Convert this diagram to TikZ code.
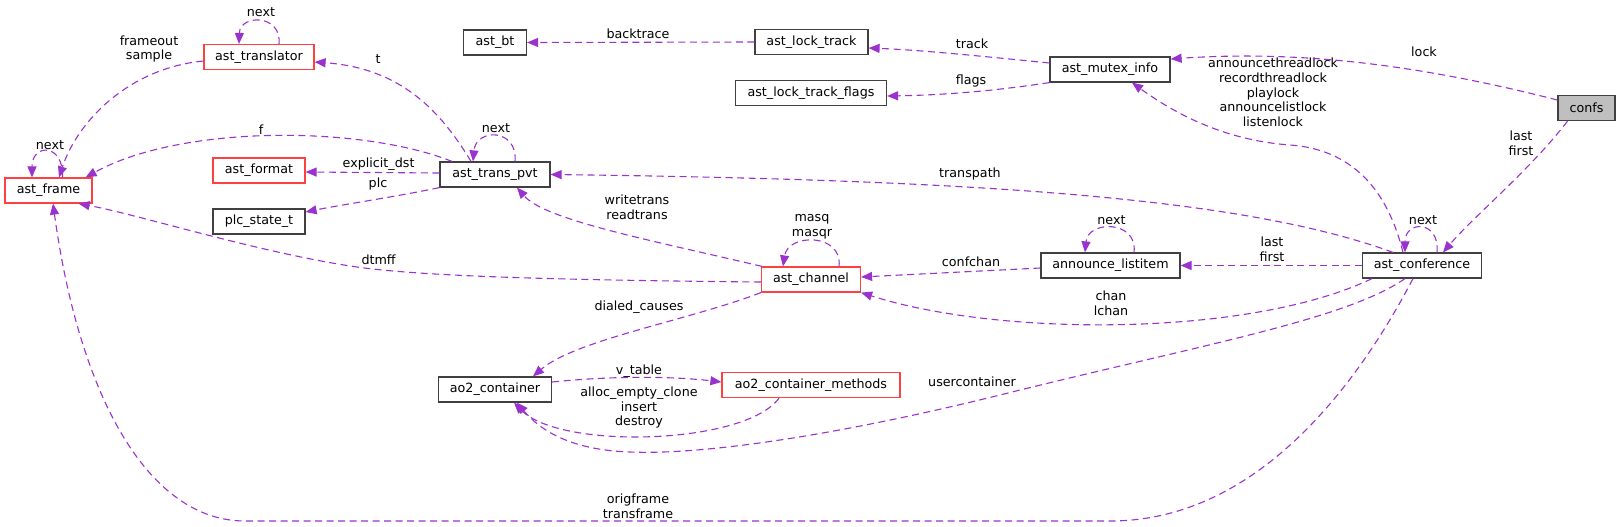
\documentclass[tikz,border=0pt]{standalone}
\usepackage{fontspec}
\setmainfont{DejaVu Sans}
\usetikzlibrary{arrows.meta}
\definecolor{edgec}{HTML}{9A32CD}
\definecolor{redb}{HTML}{FF4040}
\definecolor{darkb}{HTML}{404040}
\definecolor{rootfill}{HTML}{BFBFBF}
\begin{document}
\begin{tikzpicture}[x=1pt,y=-1pt,
  lbl/.style={font=\fontsize{12.7}{14.75}\selectfont, inner sep=0pt, align=center},
  box/.style={lbl, draw=darkb, line width=1.2pt, fill=white, minimum height=25pt},
  redbox/.style={box, draw=redb},
  rootbox/.style={box, fill=rootfill},
  rel/.style={draw=edgec, line width=1.1pt, dash pattern=on 7pt off 4.5pt, -{Triangle[length=11pt,width=9pt]}}
]
\useasboundingbox (0,0) rectangle (1620,527);

% nodes
\node[redbox, minimum width=87pt] (frame) at (48.5,190.5) {ast\_frame};
\node[redbox, minimum width=110pt] (translator) at (259,57) {ast\_translator};
\node[box, minimum width=63pt] (bt) at (495,42.5) {ast\_bt};
\node[redbox, minimum width=92pt] (format) at (259,170.5) {ast\_format};
\node[box, minimum width=92pt] (plc) at (259,221.5) {plc\_state\_t};
\node[box, minimum width=110pt] (pvt) at (495,174.5) {ast\_trans\_pvt};
\node[box, minimum width=113pt] (locktrack) at (811.5,42) {ast\_lock\_track};
\node[box, minimum width=151pt] (flags) at (811,93) {ast\_lock\_track\_flags};
\node[box, minimum width=120pt] (mutex) at (1110,69.5) {ast\_mutex\_info};
\node[rootbox, minimum width=57pt] (confs) at (1586.5,108) {confs};
\node[redbox, minimum width=99pt] (channel) at (811,279.5) {ast\_channel};
\node[box, minimum width=139pt] (listitem) at (1110.5,265.5) {announce\_listitem};
\node[box, minimum width=119pt] (conf) at (1422,265.5) {ast\_conference};
\node[box, minimum width=113pt] (ao2) at (495,389.5) {ao2\_container};
\node[redbox, minimum width=178pt] (methods) at (811,385) {ao2\_container\_methods};

% edges
\draw[rel] ([xshift=14pt]frame.north) .. controls (64,143) and (32,143) .. ([xshift=-16.5pt]frame.north);
\node[lbl] (l1) at (50,145) {next};

\draw[rel] ([yshift=-4pt]translator.west) .. controls (130,68) and (78,120) .. ([xshift=10.5pt]frame.north);
\node[lbl] (l2) at (149,49) {frameout\\sample};

\draw[rel] ([xshift=20pt]translator.north) .. controls (282,14) and (240,14) .. ([xshift=-20pt]translator.north);
\node[lbl] (l3) at (261,12) {next};

\draw[rel] ([xshift=-24pt]pvt.north) .. controls (440,110) and (400,68) .. ([yshift=-5pt]translator.east);
\node[lbl] (l4) at (378,59) {t};

\draw[rel] ([xshift=20pt]pvt.north) .. controls (518,128) and (476,128) .. ([xshift=-22pt]pvt.north);
\node[lbl] (l5) at (496,128) {next};

\draw[rel] ([xshift=-43pt]pvt.north) .. controls (360,125) and (180,125) .. ([xshift=-7pt]frame.north east);
\node[lbl] (l6) at (261,130) {f};

\draw[rel] ([yshift=1.5pt]pvt.west) -- ([yshift=-1.5pt]format.east);
\node[lbl] (l7) at (378.6,164) {explicit\_dst};

\draw[rel] (pvt.south west) .. controls (400,196) and (340,205) .. ([yshift=9.5pt]plc.east);
\node[lbl] (l8) at (378,184) {plc};

\draw[rel] ([yshift=-2.5pt]channel.west) .. controls (550,280) and (420,276) .. (357,267) .. controls (260,253) and (140,215) .. ([xshift=-14pt]frame.south east);
\node[lbl] (l9) at (378.6,260) {dtmff};

\draw[rel] ([xshift=-49pt]channel.north) .. controls (650,240) and (545,220) .. ([xshift=22pt]pvt.south);
\node[lbl] (l10) at (637,207.5) {writetrans\\readtrans};

\draw[rel] ([xshift=28pt]channel.north) .. controls (843,233) and (788,233) .. ([xshift=-28pt]channel.north);
\node[lbl] (l11) at (812,227) {masq\\masqr};

\draw[rel] ([yshift=-2.5pt]listitem.west) -- ([yshift=2.5pt]channel.east);
\node[lbl] (l12) at (971,262) {confchan};

\draw[rel] ([xshift=-50pt]conf.south) .. controls (1250,337) and (1000,337) .. (channel.south east);
\node[lbl] (l13) at (1111,303.5) {chan\\lchan};

\draw[rel] ([xshift=-17pt]conf.south) .. controls (1345,320) and (1200,345) .. (1000,395) .. controls (830,437) and (700,455) .. (630,452) .. controls (570,450) and (540,430) .. ([xshift=22pt]ao2.south);
\node[lbl] (l14) at (972,382) {usercontainer};

\draw[rel] ([xshift=-9pt]conf.south) .. controls (1360,380) and (1260,521) .. (1110,521) -- (245,521) .. controls (150,521) and (80,400) .. ([xshift=4.5pt]frame.south);
\node[lbl] (l15) at (638,506) {origframe\\transframe};

\draw[rel] (channel.south west) .. controls (690,320) and (575,340) .. ([xshift=38pt]ao2.north);
\node[lbl] (l16) at (639,307) {dialed\_causes};

\draw[rel] ([yshift=7.5pt]ao2.east) .. controls (610,376) and (670,376) .. ([yshift=3pt]methods.west);
\node[lbl] (l17) at (639,371) {v\_table};

\draw[rel] ([xshift=-32pt]methods.south) .. controls (745,445) and (560,450) .. ([xshift=19pt]ao2.south);
\node[lbl] (l18) at (639,407.5) {alloc\_empty\_clone\\insert\\destroy};

\draw[rel] ([xshift=-29pt]conf.north) .. controls (1250,200) and (1000,180) .. (pvt.east);
\node[lbl] (l19) at (970,174) {transpath};

\draw[rel] ([xshift=-19pt]conf.north) .. controls (1390,200) and (1360,150) .. (1290,145) .. controls (1220,140) and (1170,110) .. ([xshift=22pt]mutex.south);
\node[lbl] (l20) at (1273,92.5) {announcethreadlock\\recordthreadlock\\playlock\\announcelistlock\\listenlock};

\draw[rel] ([xshift=15pt]conf.north) .. controls (1440,220) and (1405,220) .. ([xshift=-17pt]conf.north);
\node[lbl] (l21) at (1423,220) {next};

\draw[rel] ([xshift=-19pt]confs.south) .. controls (1530,170) and (1475,215) .. ([xshift=21pt]conf.north);
\node[lbl] (l22) at (1521,143.5) {last\\first};

\draw[rel] ([yshift=8pt]confs.west) .. controls (1420,65) and (1300,50) .. ([yshift=10.5pt]mutex.east);
\node[lbl] (l23) at (1424,52) {lock};

\draw[rel] ([yshift=6.5pt]mutex.west) .. controls (980,56) and (920,50) .. ([yshift=-6pt]locktrack.east);
\node[lbl] (l24) at (972,44) {track};

\draw[rel] (mutex.south west) .. controls (1000,90) and (950,95) .. ([yshift=-3pt]flags.east);
\node[lbl] (l25) at (971,81) {flags};

\draw[rel] (locktrack.west) -- (bt.east);
\node[lbl] (l26) at (638,34) {backtrace};

\draw[rel] (conf.west) -- (listitem.east);
\node[lbl] (l27) at (1272,249) {last\\first};

\draw[rel] ([xshift=23.5pt]listitem.north) .. controls (1138,220) and (1088,220) .. ([xshift=-25.5pt]listitem.north);
\node[lbl] (l28) at (1111.5,220) {next};
\end{tikzpicture}
\end{document}
